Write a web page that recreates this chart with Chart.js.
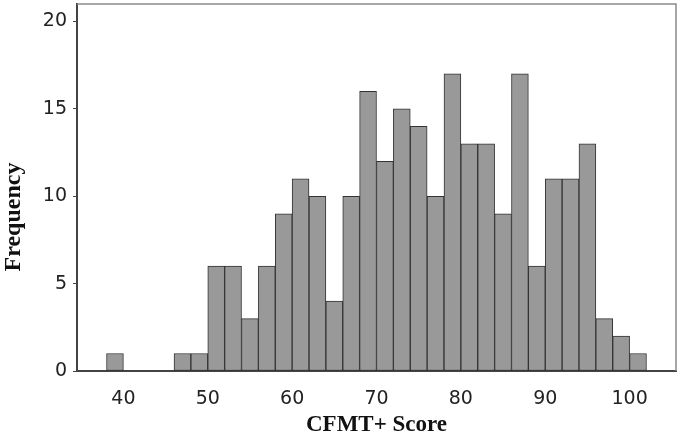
<!DOCTYPE html>
<html>
<head>
<meta charset="utf-8">
<script src="https://cdn.jsdelivr.net/npm/chart.js@4/dist/chart.umd.min.js"></script>
<style>
  html, body { margin: 0; padding: 0; background: #fff; }
  #wrap { width: 677px; height: 434px; }
</style>
</head>
<body>
<div id="wrap"><canvas id="histChart"></canvas></div>
<script>
// Bin centres (width 2) and counts
const binCenters = [39, 41, 43, 45, 47, 49, 51, 53, 55, 57, 59, 61, 63, 65, 67, 69, 71,
  73, 75, 77, 79, 81, 83, 85, 87, 89, 91, 93, 95, 97, 99, 101];
const binCounts = [1, 0, 0, 0, 1, 1, 6, 6, 3, 6, 9, 11, 10, 4, 10, 16, 12,
  15, 14, 10, 17, 13, 13, 9, 17, 6, 11, 11, 13, 3, 2, 1];
const xTicks = [40, 50, 60, 70, 80, 90, 100];
const yTicks = [0, 5, 10, 15, 20];
const yTitle = "Frequency";

// Frame on the top and right, plus the y title centred on the whole canvas height
const frame = {
  id: "frame",
  afterDraw(chart) {
    const a = chart.chartArea;
    const c = chart.ctx;
    c.save();
    c.strokeStyle = "#8a8a8a";
    c.lineWidth = 1.5;
    c.beginPath();
    c.moveTo(a.left, a.top);
    c.lineTo(a.right, a.top);
    c.lineTo(a.right, a.bottom);
    c.stroke();

    c.translate(14, chart.height / 2);
    c.rotate(-Math.PI / 2);
    c.fillStyle = "#111111";
    c.font = "bold 24px 'Liberation Serif'";
    c.textAlign = "center";
    c.textBaseline = "middle";
    c.fillText(yTitle, 0, 0);
    c.restore();
  }
};

const ctx = document.getElementById("histChart").getContext("2d");
const histChart = new Chart(ctx, {
  type: "bar",
  data: {
    datasets: [
      {
        data: binCenters.map((x, i) => ({ x: x, y: binCounts[i] })),
        backgroundColor: "#999999",
        borderColor: "#333333",
        borderWidth: 1,
        borderSkipped: false,
        barPercentage: 1,
        categoryPercentage: 1
      }
    ]
  },
  options: {
    responsive: true,
    maintainAspectRatio: false,
    animation: false,
    layout: { padding: { top: 4, right: 1, left: 0, bottom: 0 } },
    plugins: { legend: { display: false }, tooltip: { enabled: false } },
    scales: {
      x: {
        type: "linear",
        offset: false,
        min: 34.5,
        max: 105.5,
        afterBuildTicks: (scale) => { scale.ticks = xTicks.map(v => ({ value: v })); },
        afterFit: (scale) => {
          scale.height = 63;
          scale.paddingLeft = 0;
          scale.paddingRight = 0;
        },
        grid: { display: false, offset: false },
        border: { display: true, color: "#444444", width: 2 },
        ticks: {
          color: "#222222",
          padding: 9,
          maxRotation: 0,
          font: { family: "DejaVu Sans", size: 19 }
        },
        title: {
          display: true,
          text: "CFMT+ Score",
          color: "#111111",
          padding: { top: 4, bottom: -5 },
          font: { family: "Liberation Serif", size: 23, weight: "bold" }
        }
      },
      y: {
        min: 0,
        max: 21,
        afterBuildTicks: (scale) => { scale.ticks = yTicks.map(v => ({ value: v })); },
        afterFit: (scale) => {
          scale.width = 77;
          scale.paddingTop = 0;
          scale.paddingBottom = 0;
        },
        grid: { display: true, drawOnChartArea: false, drawTicks: true, tickLength: 4, color: "#444444" },
        border: { display: true, color: "#444444", width: 2 },
        ticks: {
          color: "#222222",
          padding: 6,
          font: { family: "DejaVu Sans", size: 19 }
        },
        title: { display: false }
      }
    }
  },
  plugins: [frame]
});
</script>
</body>
</html>
